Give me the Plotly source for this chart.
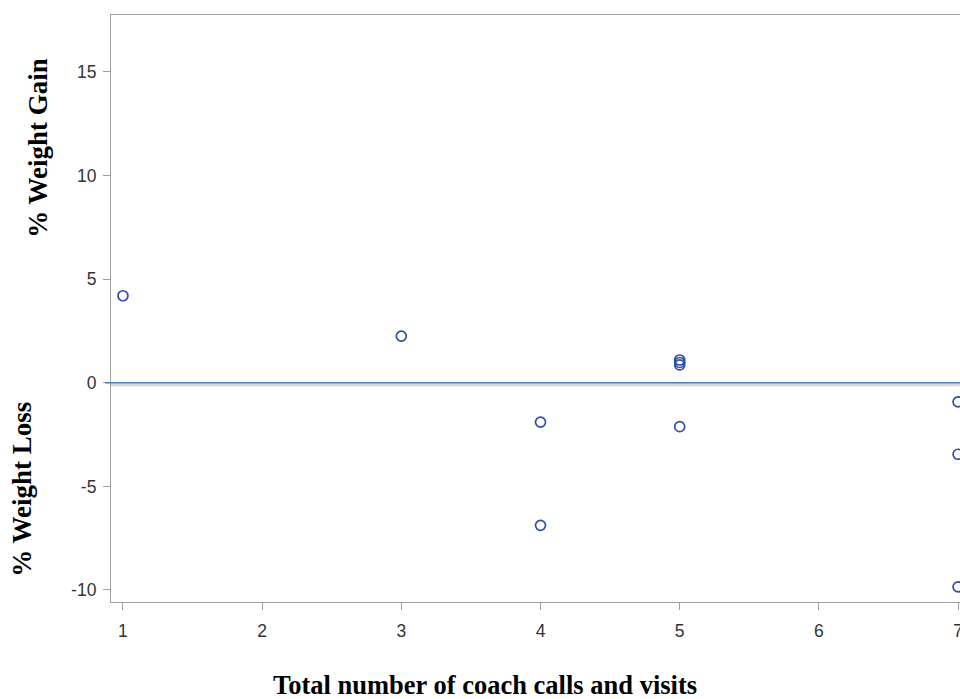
import plotly.graph_objects as go

# Data
coach_contacts = [1, 3, 4, 4, 5, 5, 5, 5, 7, 7, 7]
weight_change_pct = [4.2, 2.25, -1.9, -6.88, 1.1, 0.98, 0.86, -2.12, -0.92, -3.45, -9.85]
reference_y = 0

x_ticks = [1, 2, 3, 4, 5, 6, 7]
y_ticks = [-10, -5, 0, 5, 10, 15]
y_tick_labels = ["-10", "-5", "0", "5", "10", "15"]

fig = go.Figure()

fig.add_trace(go.Scatter(
    x=coach_contacts, y=weight_change_pct, mode="markers",
    marker=dict(symbol="circle-open", size=10, color="#2d4ea6",
                line=dict(width=1.7, color="#2d4ea6")),
    showlegend=False, cliponaxis=True, hoverinfo="skip",
))

# shadow + reference line at 0
fig.add_shape(type="line", xref="paper", yref="y", x0=0, x1=1,
              y0=reference_y - 0.1, y1=reference_y - 0.1,
              line=dict(color="rgba(175,175,175,0.5)", width=3), layer="below")
fig.add_shape(type="line", xref="paper", yref="y", x0=-0.007, x1=1,
              y0=reference_y, y1=reference_y,
              line=dict(color="#4a7cc0", width=1.6), layer="above")

title_font = dict(family="Liberation Serif, Times New Roman, serif", size=27, color="black")

fig.add_annotation(text="<b>% Weight Gain</b>", xref="paper", yref="y",
                   x=-0.087, y=11.35, showarrow=False, textangle=-90, font=title_font,
                   xanchor="center", yanchor="middle")
fig.add_annotation(text="<b>% Weight Loss</b>", xref="paper", yref="y",
                   x=-0.1045, y=-5.15, showarrow=False, textangle=-90, font=title_font,
                   xanchor="center", yanchor="middle")
fig.add_annotation(text="<b>Total number of coach calls and visits</b>", xref="paper", yref="paper",
                   x=0.441, y=-0.142, showarrow=False,
                   font=dict(family="Liberation Serif, Times New Roman, serif", size=26.5, color="black"),
                   xanchor="center", yanchor="middle")

fig.update_layout(
    width=960, height=699,
    margin=dict(l=111, r=0, t=15, b=97),
    paper_bgcolor="white", plot_bgcolor="white",
    font=dict(family="Liberation Sans, Arial, sans-serif", size=17.5, color="#333333"),
    xaxis=dict(range=[0.914, 7.014], tickvals=x_ticks, ticks="outside", ticklen=7,
               tickcolor="#a0a0a0", showline=True, linecolor="#a0a0a0", linewidth=1.2,
               mirror=True, showgrid=False, zeroline=False, ticklabelstandoff=6,
               ticklabeloverflow="allow", automargin=False),
    yaxis=dict(range=[-10.58, 17.75], tickvals=y_ticks, ticktext=y_tick_labels,
               ticks="outside", ticklen=7,
               tickcolor="#a0a0a0", showline=True, linecolor="#a0a0a0", linewidth=1.2,
               showgrid=False, zeroline=False, ticklabelstandoff=3, automargin=False),
)

fig.write_html("out.html", config={"displayModeBar": False},
               post_script="document.body.style.margin='0';document.body.style.overflow='hidden';")
